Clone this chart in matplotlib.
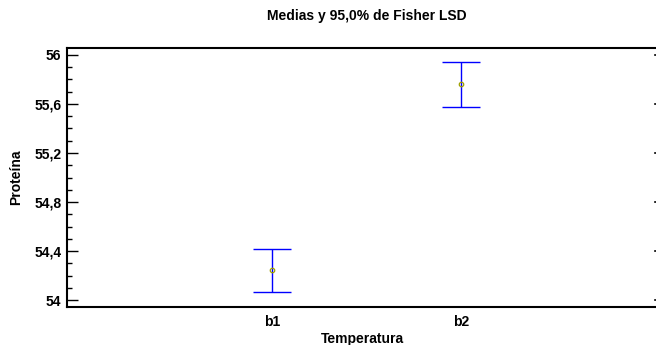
import matplotlib
matplotlib.use("Agg")
import matplotlib.pyplot as plt
from matplotlib.ticker import MultipleLocator, FuncFormatter

categories = ["b1", "b2"]
means = [54.245, 55.76]
lower = [54.065, 55.578]
upper = [54.42, 55.94]
yticks = [54.0, 54.4, 54.8, 55.2, 55.6, 56.0]

plt.rcParams['font.family'] = ['Liberation Sans', 'DejaVu Sans']
FS = 10

fig = plt.figure(figsize=(6.56, 3.45), dpi=100)
ax = fig.add_axes([67/656, 1-307/345, 590/656, (307-48)/345])

xs = [1, 2]
yerr = [[m - l for m, l in zip(means, lower)], [u - m for m, u in zip(means, upper)]]
ax.errorbar(xs, means, yerr=yerr, fmt='none', ecolor='#0000ff', elinewidth=1.0,
            capsize=13.5, capthick=1.0)
ax.plot(xs, means, 'o', ms=3.2, mfc='none', mec='#a0a000', mew=0.9)

ax.set_xlim(-0.085, 3.04)
ax.set_ylim(53.943, 56.057)
ax.set_xticks(xs)
ax.set_xticklabels(categories, fontsize=FS, fontweight='bold')
ax.set_yticks(yticks)
ax.yaxis.set_major_formatter(FuncFormatter(lambda v, p: ('%g' % round(v, 1)).replace('.', ',')))
ax.yaxis.set_minor_locator(MultipleLocator(0.1))
for lab in ax.get_yticklabels():
    lab.set_fontweight('bold')
    lab.set_fontsize(FS)

ax.tick_params(axis='x', length=0, pad=6)
ax.tick_params(axis='y', which='major', direction='in', length=8, width=1, left=True, right=False, pad=4)
ax.tick_params(axis='y', which='minor', direction='in', length=3.6, width=1, left=True, right=False)

# tiny right-side ticks
for y in yticks:
    ax.plot([0.996, 1.0], [y, y], transform=ax.get_yaxis_transform(), color='black', lw=1.2, clip_on=False)

for s in ['left', 'top', 'bottom']:
    ax.spines[s].set_linewidth(1.5)
ax.spines['right'].set_visible(False)

ax.set_xlabel('Temperatura', fontsize=FS, fontweight='bold', labelpad=2)
ax.set_ylabel('Proteína', fontsize=FS, fontweight='bold', labelpad=8)
fig.text(367/656, 1-16/345, 'Medias y 95,0% de Fisher LSD', ha='center', va='center',
         fontsize=FS, fontweight='bold')

fig.savefig('out.png', dpi=100)
